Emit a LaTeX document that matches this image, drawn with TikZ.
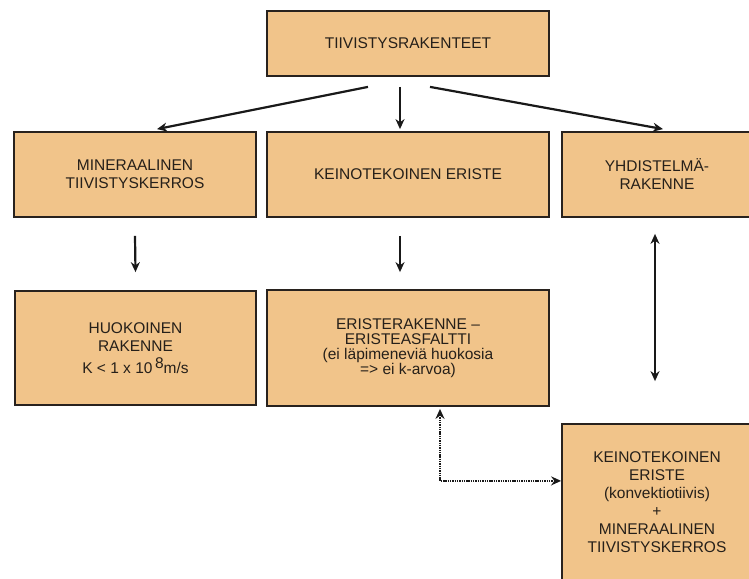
\documentclass[tikz,border=0pt]{standalone}
\usepackage{fontspec}
\setmainfont{Liberation Sans}
\usetikzlibrary{arrows.meta,calc}
\definecolor{boxfill}{RGB}{241,196,138}
\definecolor{boxline}{RGB}{40,34,30}
\definecolor{txt}{RGB}{38,32,26}
\tikzset{
  box/.style={draw=boxline, line width=1.8pt, fill=boxfill, inner sep=0pt,
    align=center, text=txt, font=\fontsize{15.5}{18}\selectfont},
  tip/.tip={Stealth[length=10pt,width=9pt]},
  arr/.style={line width=2.2pt, draw=black!90, -tip},
  darr/.style={line width=2.2pt, draw=black!90, tip-tip},
  dotarr/.style={line width=2.2pt, draw=black!90, dash pattern=on 1.4pt off 0.9pt, tip-tip}
}
\begin{document}
\begin{tikzpicture}[x=1pt,y=-1pt]
\useasboundingbox (0,0) rectangle (749,578);
\fill[white] (0,0) rectangle (749,578);
\clip (0,0) rectangle (749,578);

% boxes
\node[box, minimum width=282pt, minimum height=65pt] (top) at (408,43.5) {TIIVISTYSRAKENTEET};
\node[box, minimum width=242pt, minimum height=85pt] (min) at (135,174.5) {MINERAALINEN\\TIIVISTYSKERROS};
\node[box, minimum width=282pt, minimum height=85pt] (kei) at (408,174.5) {KEINOTEKOINEN ERISTE};
\node[box, minimum width=190pt, minimum height=85pt] (yhd) at (657,174.5) {YHDISTELMÄ-\\RAKENNE};
\node[box, minimum width=241pt, minimum height=114pt] (huo) at (135.5,348)
  {HUOKOINEN\\RAKENNE\\[4pt]K < 1 x 10\,\raisebox{0.55ex}{8}m/s};
\node[box, minimum width=282pt, minimum height=116pt, font=\fontsize{15.5}{15}\selectfont] (eri) at (408,348)
  {ERISTERAKENNE --\\ERISTEASFALTTI\\(ei läpimeneviä huokosia\\=> ei k-arvoa)};
\node[box, minimum width=190pt, minimum height=156pt] (yhd2) at (657,502)
  {KEINOTEKOINEN\\ERISTE\\(konvektiotiivis)\\+\\MINERAALINEN\\TIIVISTYSKERROS};

% connectors from the top box
\draw[arr] ($(top.south)+(-40,10)$) -- ($(min.north)+(22,-2)$);
\draw[arr] ($(top.south)+(-8,10)$) -- ($(kei.north)+(-8,-2)$);
\draw[arr] ($(top.south)+(22,10)$) -- ($(yhd.north)+(6,-2)$);

% downward connectors
\draw[arr] ($(min.south)+(0,18)$) -- ($(huo.north)+(0,-18)$);
\draw[arr] ($(kei.south)+(-8,18)$) -- ($(eri.north)+(-8,-17)$);
\draw[darr] ($(yhd.south)+(-2,16)$) -- ($(yhd2.north)+(-2,-42)$);

% dotted link between the two insulation boxes
\coordinate (bend) at ($(eri.south)+(32,74)$);
\draw[dotarr] ($(eri.south)+(32,2)$) -- (bend) -- (bend -| yhd2.west);
\end{tikzpicture}
\end{document}
